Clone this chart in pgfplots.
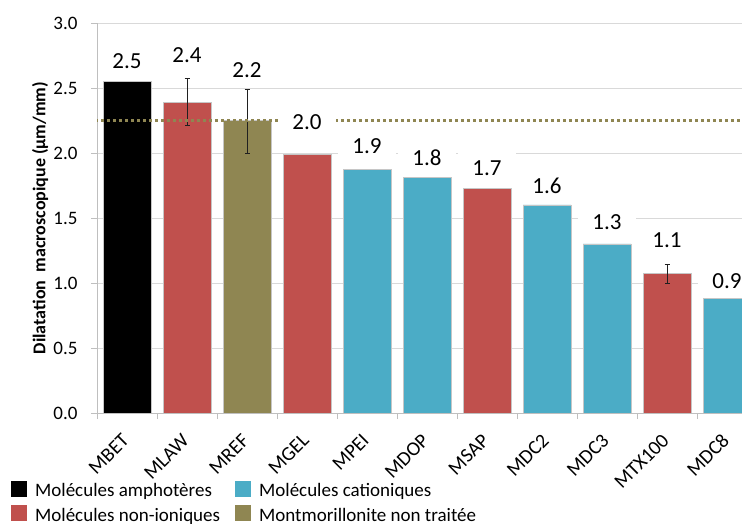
\documentclass[border=0pt]{standalone}
\usepackage{fontspec}
\setmainfont{Carlito}
\usepackage{pgfplots}
\pgfplotsset{compat=1.18}

\definecolor{amph}{RGB}{0,0,0}
\definecolor{noni}{RGB}{192,80,77}
\definecolor{cati}{RGB}{75,172,198}
\definecolor{mont}{RGB}{143,134,82}
\definecolor{gridc}{RGB}{217,217,217}
\definecolor{axisc}{RGB}{191,191,191}

\pgfplotsset{
  mybar/.style={ybar, bar width=0.8, bar shift=0pt, draw=gray!45, line width=0.8bp,
    legend image code/.code={\draw[##1, draw=none] (0bp,-6bp) rectangle (16bp,10bp);}},
}
\tikzset{
  vallabel/.style={fill=white, font=\fontsize{23bp}{26bp}\selectfont,
    text height=15bp, text depth=0bp, inner xsep=14bp, inner ysep=9bp},
}

\begin{document}
\begin{tikzpicture}
\path[use as bounding box] (0,0) rectangle (742bp,524bp);
\begin{axis}[
  at={(97bp,111bp)}, anchor=south west,
  scale only axis, width=645bp, height=390bp,
  xmin=-0.5, xmax=10.25, ymin=0, ymax=3,
  axis lines*=left,
  axis line style={axisc, line width=0.8bp},
  tick align=outside,
  major tick length=6bp,
  minor tick length=6bp,
  tick style={axisc, line width=0.8bp},
  ytick={0,0.5,1,1.5,2,2.5,3},
  ymajorgrids, grid style={gridc, line width=0.8bp},
  /pgf/number format/.cd, fixed, fixed zerofill, precision=1, assume math mode=true,
  /pgfplots/.cd,
  tick label style={font=\fontsize{19bp}{22bp}\selectfont},
  yticklabel style={xshift=-10bp},
  xtick={0,1,2,3,4,5,6,7,8,9,10},
  xticklabels={MBET,MLAW,MREF,MGEL,MPEI,MDOP,MSAP,MDC2,MDC3,MTX100,MDC8},
  minor xtick={-0.5,0.5,...,9.5},
  major x tick style={draw=none},
  xticklabel style={xshift=1bp, yshift=-16bp, rotate=45, anchor=east,
      font=\fontsize{20bp}{22bp}\selectfont},
  ylabel={Dilatation\ \ macroscopique (µm/mm)},
  ylabel style={font=\bfseries\fontsize{18bp}{22bp}\selectfont,
    at={(axis description cs:-0.0884,0.5)}, anchor=center},
  legend columns=2,
  legend cell align=left,
  legend style={draw=none, fill=none, at={(-0.138,-0.169)}, anchor=north west,
    font=\fontsize{19bp}{24bp}\selectfont, row sep=5bp,
    /tikz/every odd column/.append style={column sep=6bp},
    /tikz/every even column/.append style={column sep=13bp}},
]
% bars, one series per family of molecules
\addplot[mybar, fill=amph] coordinates {(0,2.55)};
\addplot[mybar, fill=cati] coordinates {(4,1.87) (5,1.81) (7,1.60) (8,1.30) (10,0.885)};
\addplot[mybar, fill=noni] coordinates {(1,2.39) (3,1.99) (6,1.73) (9,1.07)};
\addplot[mybar, fill=mont] coordinates {(2,2.25)};
\legend{Molécules amphotères, Molécules cationiques, Molécules non-ioniques, Montmorillonite non traitée}

% error bars
\addplot[draw=none, mark=none, forget plot,
  error bars/.cd, y dir=both, y explicit,
  error bar style={draw=gray!25!black, line width=0.8bp, solid},
  error mark options={rotate=90, mark size=2.5bp, draw=gray!25!black, line width=0.8bp}]
  coordinates {(1,2.39) +- (0,0.18) (2,2.245) +- (0,0.245) (9,1.07) +- (0,0.07)};

% reference level (untreated montmorillonite)
\addplot[mont, line width=2.6bp, dash pattern=on 2.6bp off 3.4bp, forget plot]
  coordinates {(-0.53,2.25) (10.25,2.25)};

% value labels
\node[vallabel] at (axis cs:0,2.71) {2.5};
\node[vallabel] at (axis cs:1,2.75) {2.4};
\node[vallabel] at (axis cs:2,2.64) {2.2};
\node[vallabel] at (axis cs:3,2.235) {2.0};
\node[vallabel] at (axis cs:4,2.05) {1.9};
\node[vallabel] at (axis cs:5,1.96) {1.8};
\node[vallabel] at (axis cs:6,1.885) {1.7};
\node[vallabel] at (axis cs:7,1.745) {1.6};
\node[vallabel] at (axis cs:8,1.47) {1.3};
\node[vallabel] at (axis cs:9,1.33) {1.1};
\node[vallabel] at (axis cs:10,1.015) {0.9};
\end{axis}
\end{tikzpicture}
\end{document}
